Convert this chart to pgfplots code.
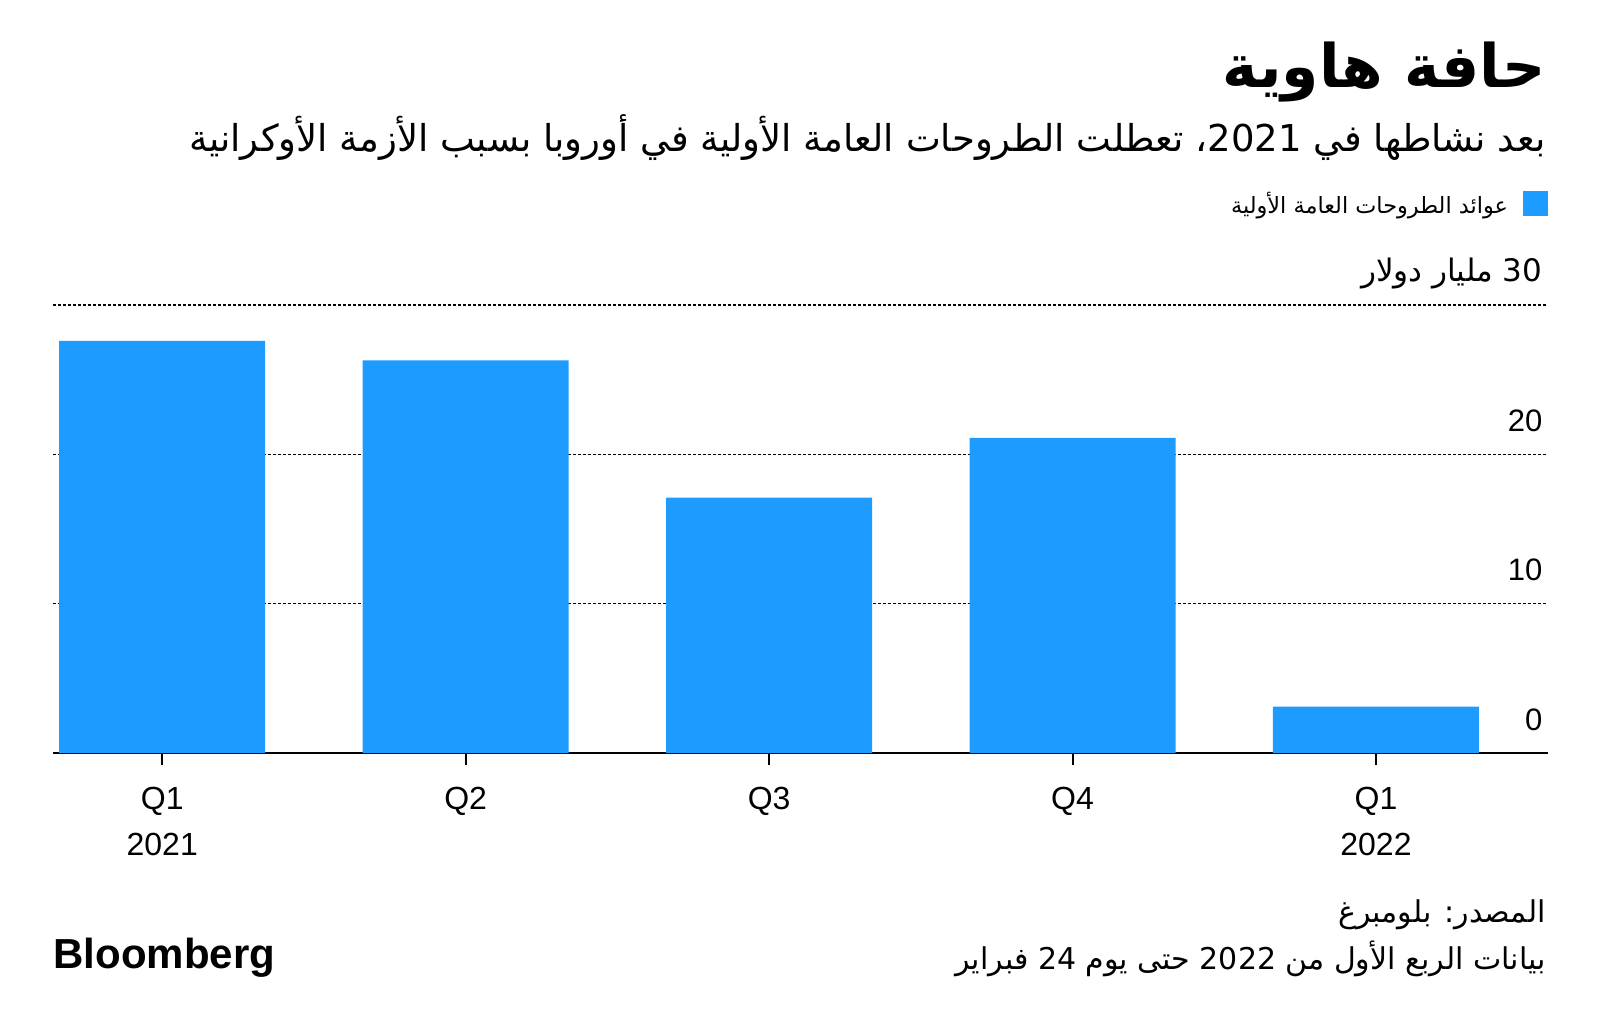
\documentclass[border=0pt]{standalone}
\usepackage{fontspec}
\usepackage{pgfplots}
\pgfplotsset{compat=1.18}
\setmainfont{Liberation Sans}
\newfontfamily\arabicfont[Script=Arabic]{DejaVu Sans}
\TeXXeTstate=1
\definecolor{barblue}{RGB}{30,155,255}
\begin{document}
\begin{tikzpicture}
\path (0,0) rectangle (800pt,517pt);
\begin{axis}[
  at={(26.5pt,140.5pt)}, anchor=south west,
  scale only axis, width=747.5pt, height=224pt,
  xmin=-0.36, xmax=4.567, ymin=0, ymax=30,
  ybar, bar width=103pt,
  clip=false,
  separate axis lines,
  axis x line*=bottom, axis y line*=right,
  x axis line style={black, line width=1.2pt},
  y axis line style={draw=none},
  xtick={0,1,2,3,4},
  xticklabels={{Q1\\2021},Q2,Q3,Q4,{Q1\\2022}},
  xticklabel style={align=center, anchor=north, inner sep=0pt, yshift=-11pt, font=\fontsize{16}{23}\selectfont},
  tick align=outside,
  major tick length=6pt,
  xtick style={black, line width=1pt},
  ytick={0,10,20,30},
  yticklabels={0,10,20,{\arabicfont\beginR\beginL 30\endL{} مليار دولار\endR}},
  ytick style={draw=none},
  yticklabel style={anchor=base east, inner sep=0pt, xshift=-8.6pt, yshift=11.5pt, font=\fontsize{15.5}{18}\selectfont},
  ymajorgrids,
  major grid style={black, line width=0.55pt, dash pattern=on 1.5pt off 1pt},
  legend plot pos=right,
  legend style={draw=none, fill=none, at={(1,1)}, anchor=east, yshift=50.5pt, inner sep=0pt, outer sep=0pt, font=\fontsize{11.2}{14}\selectfont},
]
\addplot[fill=barblue, draw=none, legend image code/.code={\path (0pt,0pt); \fill[barblue] (5.5pt,-6.25pt) rectangle (18pt,6.25pt);}]
  coordinates {(0,27.6) (1,26.3) (2,17.1) (3,21.1) (4,3.1)};
\addlegendentry{\arabicfont\beginR عوائد الطروحات العامة الأولية\endR}
\end{axis}
\node[anchor=east, inner sep=0pt] at (773pt,481pt) {\arabicfont\bfseries\fontsize{30}{36}\selectfont\beginR حافة هاوية\endR};
\node[anchor=east, inner sep=0pt] at (773pt,448pt) {\arabicfont\fontsize{18.5}{22}\selectfont\beginR بعد نشاطها في \beginL 2021\endL، تعطلت الطروحات العامة الأولية في أوروبا بسبب الأزمة الأوكرانية\endR};
\node[anchor=east, inner sep=0pt] at (773pt,59.5pt) {\arabicfont\fontsize{15}{18}\selectfont\beginR المصدر: بلومبرغ\endR};
\node[anchor=east, inner sep=0pt] at (773pt,37.5pt) {\arabicfont\fontsize{15}{18}\selectfont\beginR بيانات الربع الأول من \beginL 2022\endL{} حتى يوم \beginL 24\endL{} فبراير\endR};
\node[anchor=west, inner sep=0pt] at (26.5pt,38pt) {\fontsize{21}{24}\selectfont\bfseries Bloomberg};
\end{tikzpicture}
\end{document}
